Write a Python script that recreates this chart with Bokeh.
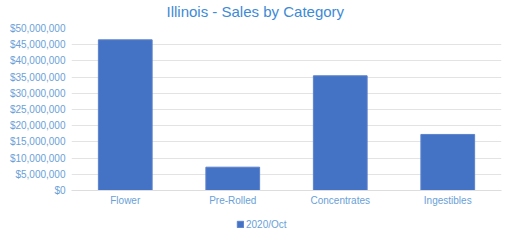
from bokeh.plotting import figure
from bokeh.layouts import column
from bokeh.models import ColumnDataSource, NumeralTickFormatter, Legend, LegendItem, FixedTicker, FactorRange, Range1d
from bokeh.embed import file_html
from bokeh.resources import INLINE

categories = ["Flower", "Pre-Rolled", "Concentrates", "Ingestibles"]
sales_2020_oct = [46500000, 7200000, 35400000, 17300000]
series_name = "2020/Oct"
chart_title = "Illinois - Sales by Category"
y_ticks = [0, 5000000, 10000000, 15000000, 20000000, 25000000, 30000000, 35000000, 40000000, 45000000, 50000000]

bar_fill = "#4472c4"
bar_line = "#5b82cc"
label_color = "#6a9fd8"

src = ColumnDataSource(dict(cat=categories, val=sales_2020_oct))

def bare(fig):
    fig.xgrid.grid_line_color = None
    fig.ygrid.grid_line_color = None
    fig.outline_line_color = None

# title strip
t = figure(width=512, height=20, x_range=FactorRange(*categories), y_range=Range1d(-2, -1),
           output_backend="svg", toolbar_location=None, x_axis_location=None, y_axis_location=None,
           min_border_left=0, min_border_right=0, min_border_top=0, min_border_bottom=0)
bare(t)
rt = t.vbar(x="cat", top="val", width=0.5, source=src, fill_color=bar_fill, line_color=bar_line)
rt.visible = False
t.title.text = chart_title
t.title.align = "left"
t.title.offset = 95
t.title.standoff = 0
t.title.text_font = "Liberation Sans"
t.title.text_font_size = "15px"
t.title.text_font_style = "normal"
t.title.text_color = "#3d8ad6"

# main chart
p = figure(width=512, height=192, x_range=FactorRange(*categories, range_padding=0),
           y_range=Range1d(0, 50000000), output_backend="svg", toolbar_location=None,
           min_border_left=71, min_border_right=11, min_border_top=8, min_border_bottom=22)

r = p.vbar(x="cat", top="val", width=0.5, source=src, fill_color=bar_fill, line_color=bar_line, line_width=1)

p.yaxis.ticker = FixedTicker(ticks=y_ticks)
p.yaxis.formatter = NumeralTickFormatter(format="$0,0")
p.yaxis.axis_line_color = None
p.yaxis.major_tick_line_color = None
p.yaxis.minor_tick_line_color = None
p.yaxis.major_label_text_font = "Liberation Sans"
p.yaxis.major_label_text_font_size = "10px"
p.yaxis.major_label_text_color = label_color
p.yaxis.major_label_standoff = 0

p.xaxis.axis_line_color = "#dddddd"
p.xaxis.major_tick_line_color = None
p.xaxis.minor_tick_line_color = None
p.xaxis.major_label_text_font = "Liberation Sans"
p.xaxis.major_label_text_font_size = "10px"
p.xaxis.major_label_text_color = label_color
p.xaxis.major_label_standoff = -2

p.xgrid.grid_line_color = None
p.ygrid.grid_line_color = "#e3e3e3"
p.ygrid.grid_line_width = 1
p.outline_line_color = None

# legend strip below the chart
q = figure(width=512, height=28, x_range=FactorRange(*categories), y_range=Range1d(-2, -1),
           output_backend="svg", toolbar_location=None, x_axis_location=None, y_axis_location=None,
           min_border_left=0, min_border_right=0, min_border_top=0, min_border_bottom=0)
bare(q)
rq = q.vbar(x="cat", top="val", width=0.5, source=src, fill_color=bar_fill, line_color=bar_line)
rq.visible = False
legend = Legend(items=[LegendItem(label=series_name, renderers=[rq])], orientation="horizontal",
                location=(165, 10), label_text_font="Liberation Sans", label_text_font_size="10px",
                label_text_color=label_color, glyph_width=8, glyph_height=8, label_standoff=2,
                label_height=12, padding=0, margin=0, spacing=0, border_line_color=None,
                background_fill_alpha=0, inactive_fill_alpha=0)
q.add_layout(legend, "center")

layout = column(t, p, q, spacing=0)
open("out.html", "w").write(file_html(layout, INLINE))
